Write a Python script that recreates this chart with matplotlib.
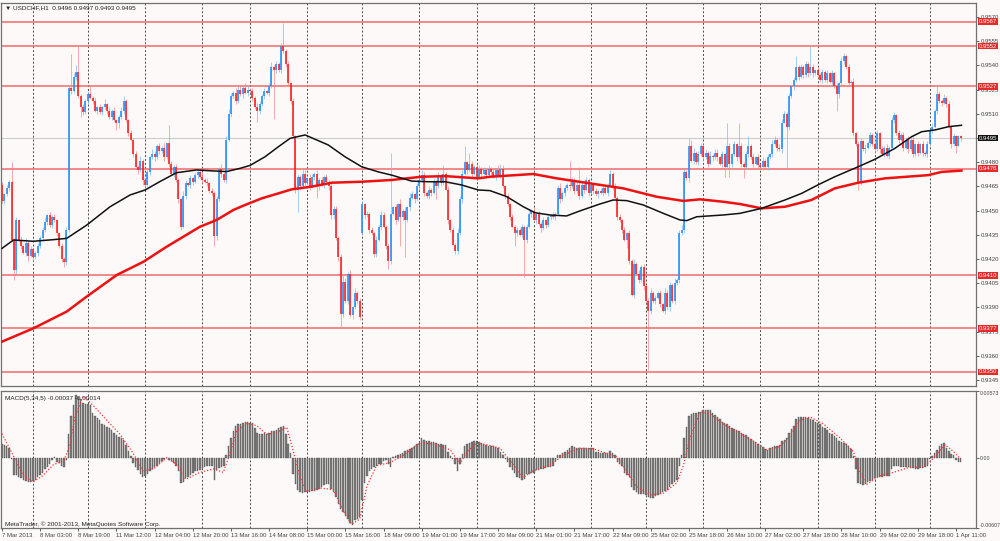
import numpy as np
import matplotlib
matplotlib.use('Agg')
from matplotlib import pyplot as plt

plt.rcParams['font.family'] = ['Liberation Sans', 'DejaVu Sans']

# USDCHF H1, 7 Mar - 1 Apr 2013. prices are pips above 0.9300
base = 0.93
pip = 0.0001

close_pips = [
    156, 160, 164, 168, 132, 113, 144, 132, 128, 124,
    130, 122, 126, 121, 124, 128, 133, 138, 143, 147,
    141, 146, 144, 136, 128, 120, 118, 138, 226, 224,
    233, 236, 221, 214, 211, 218, 222, 220, 218, 212,
    214, 211, 214, 216, 212, 208, 212, 206, 204, 208,
    212, 218, 206, 198, 194, 185, 177, 175, 181, 169,
    166, 174, 183, 185, 183, 190, 187, 189, 183, 192,
    179, 173, 177, 169, 157, 140, 159, 167, 166, 170,
    168, 172, 174, 171, 169, 168, 167, 162, 161, 134,
    157, 176, 173, 169, 194, 210, 221, 223, 218, 225,
    222, 226, 223, 225, 224, 220, 214, 212, 216, 221,
    224, 223, 227, 239, 237, 241, 237, 252, 249, 241,
    229, 218, 196, 163, 171, 165, 173, 167, 170, 165,
    171, 173, 165, 169, 166, 171, 168, 165, 147, 151,
    133, 121, 86, 106, 94, 111, 85, 90, 99, 94,
    84, 154, 147, 148, 138, 136, 123, 132, 140, 147,
    140, 128, 119, 148, 152, 144, 154, 146, 150, 144,
    152, 158, 160, 157, 165, 169, 172, 161, 159, 163,
    161, 168, 165, 171, 167, 173, 163, 144, 138, 129,
    125, 136, 157, 173, 180, 175, 179, 173, 177, 171,
    176, 173, 175, 172, 176, 174, 171, 175, 172, 176,
    165, 159, 154, 146, 140, 136, 138, 135, 140, 132,
    140, 148, 150, 144, 148, 142, 139, 144, 141, 146,
    147, 146, 148, 164, 157, 161, 164, 166, 165, 169,
    162, 166, 159, 166, 163, 169, 161, 166, 162, 160,
    162, 161, 164, 161, 166, 173, 165, 158, 146, 144,
    138, 132, 136, 119, 98, 117, 111, 107, 115, 103,
    94, 88, 99, 94, 96, 99, 92, 88, 99, 90,
    104, 94, 105, 107, 136, 138, 174, 170, 190, 181,
    186, 180, 185, 190, 183, 186, 179, 184, 183, 186,
    183, 179, 185, 177, 190, 179, 185, 191, 183, 190,
    179, 177, 185, 190, 183, 179, 183, 178, 177, 181,
    177, 183, 185, 191, 194, 189, 188, 204, 210, 202,
    221, 227, 231, 239, 233, 239, 234, 241, 235, 239,
    235, 237, 234, 231, 236, 231, 235, 230, 235, 227,
    222, 229, 243, 246, 239, 229, 230, 198, 191, 168,
    193, 188, 189, 192, 197, 191, 188, 198, 188, 185,
    189, 184, 189, 206, 209, 198, 194, 197, 189, 194,
    188, 194, 185, 191, 186, 191, 186, 185, 191, 200,
    202, 212, 222, 218, 217, 220, 216, 202, 191, 196,
    190, 196, 195,
]
# bars whose open is not the previous close (first bar, weekend gap)
gap_open = {0: 166, 151: 136}

up_wick = [
    2, 1, 2, 1, 0, 1, 2, 1, 2, 1, 3, 1, 2, 1, 1, 2, 1, 2, 3, 1,
    2, 1, 2, 1, 1, 2, 1, 2, 1, 0, 2, 1, 0, 1, 2, 1, 2, 0, 1, 2,
    1, 2, 1, 3, 1, 2, 1, 2, 1, 1, 2, 3, 1, 1, 2, 1, 2, 1, 3, 1,
    1, 2, 1, 3, 2, 1, 2, 1, 3, 0, 0, 2, 1, 2, 1, 1, 3, 2, 1, 2,
    1, 2, 1, 2, 3, 1, 2, 1, 2, 1, 2, 1, 3, 1, 2, 3, 2, 1, 3, 2,
    2, 1, 3, 2, 1, 2, 1, 3, 2, 1, 2, 1, 2, 3, 1, 2, 1, 2, 0, 1,
    2, 1, 2, 1, 2, 1, 0, 2, 1, 3, 2, 1, 2, 1, 2, 1, 2, 1, 3, 2,
    2, 1, 2, 0, 2, 1, 2, 1, 3, 1, 2, 2, 1, 2, 1, 2, 1, 2, 1, 3,
    2, 1, 2, 0, 1, 2, 1, 3, 1, 2, 1, 3, 2, 1, 2, 1, 3, 2, 1, 2,
    1, 2, 1, 3, 2, 0, 1, 2, 1, 2, 1, 3, 2, 2, 0, 1, 0, 2, 1, 2,
    2, 1, 2, 1, 2, 1, 2, 1, 3, 0, 2, 1, 2, 1, 2, 1, 2, 1, 2, 1,
    2, 3, 1, 2, 1, 2, 1, 2, 1, 2, 1, 2, 1, 2, 3, 1, 2, 1, 0, 2,
    1, 2, 0, 2, 1, 2, 1, 2, 1, 2, 1, 2, 1, 2, 1, 2, 1, 2, 1, 2,
    1, 2, 1, 2, 1, 3, 1, 2, 1, 2, 1, 2, 3, 1, 2, 1, 2, 1, 3, 2,
    2, 1, 3, 1, 2, 3, 2, 1, 0, 0, 3, 1, 2, 2, 1, 2, 1, 3, 1, 2,
    2, 1, 2, 1, 0, 2, 1, 2, 1, 0, 2, 1, 2, 0, 1, 2, 1, 2, 1, 2,
    1, 2, 1, 3, 2, 1, 2, 3, 2, 1, 2, 1, 2, 0, 1, 2, 1, 2, 1, 0,
    2, 1, 2, 1, 2, 1, 2, 1, 2, 1, 2, 1, 2, 2, 1, 2, 1, 2, 1, 2,
    2, 1, 2, 1, 2, 1, 3, 2, 1, 2, 1, 2, 1, 2, 2, 1, 2, 1, 2, 1,
    2, 1, 2, 1, 2, 1, 2, 1, 2, 1, 2, 1, 0, 2, 1, 2, 1, 2, 1, 2,
    1, 1, 1,
]
dn_wick = [
    1, 2, 1, 2, 1, 0, 2, 1, 2, 1, 2, 3, 1, 2, 1, 2, 1, 2, 1, 2,
    1, 2, 1, 2, 1, 2, 0, 2, 1, 2, 1, 2, 1, 0, 2, 1, 2, 1, 2, 1,
    2, 1, 2, 1, 2, 1, 2, 1, 0, 0, 1, 2, 1, 2, 1, 2, 1, 2, 1, 0,
    2, 1, 2, 1, 2, 1, 2, 1, 2, 1, 2, 1, 2, 1, 2, 0, 1, 2, 1, 2,
    2, 1, 2, 1, 2, 1, 2, 1, 2, 0, 2, 1, 2, 1, 2, 1, 2, 1, 2, 1,
    1, 2, 1, 2, 1, 2, 1, 0, 2, 1, 2, 1, 2, 1, 0, 2, 1, 2, 1, 2,
    1, 2, 1, 2, 0, 2, 1, 2, 1, 2, 1, 2, 0, 2, 1, 2, 1, 2, 0, 2,
    1, 2, 0, 2, 1, 2, 1, 2, 1, 2, 2, 1, 2, 1, 2, 1, 0, 2, 1, 2,
    1, 2, 0, 2, 1, 2, 1, 0, 2, 0, 1, 2, 1, 2, 1, 2, 1, 2, 1, 2,
    2, 1, 2, 1, 2, 1, 0, 2, 1, 0, 0, 2, 1, 2, 1, 2, 1, 2, 1, 2,
    1, 2, 1, 2, 1, 2, 1, 2, 1, 2, 1, 2, 1, 2, 1, 0, 2, 1, 2, 0,
    2, 1, 2, 1, 2, 1, 2, 1, 2, 1, 2, 1, 2, 1, 2, 1, 2, 1, 2, 1,
    2, 1, 2, 1, 2, 1, 2, 1, 2, 1, 2, 1, 2, 1, 2, 1, 2, 1, 2, 1,
    2, 1, 0, 2, 1, 2, 1, 2, 1, 2, 1, 0, 2, 1, 2, 1, 2, 1, 2, 1,
    2, 1, 2, 1, 2, 1, 2, 1, 2, 1, 2, 1, 2, 1, 2, 1, 2, 1, 2, 1,
    2, 1, 2, 0, 1, 0, 2, 1, 2, 1, 2, 0, 1, 2, 1, 2, 1, 2, 1, 2,
    1, 2, 1, 2, 1, 2, 1, 2, 0, 1, 2, 1, 2, 1, 2, 1, 2, 1, 2, 1,
    2, 1, 2, 1, 2, 1, 2, 1, 2, 1, 0, 2, 1, 2, 1, 2, 1, 2, 1, 0,
    2, 1, 2, 1, 2, 1, 2, 1, 2, 1, 2, 1, 2, 1, 2, 1, 2, 1, 2, 1,
    2, 1, 2, 1, 2, 1, 2, 1, 2, 1, 2, 1, 2, 1, 2, 1, 2, 1, 2, 1,
    1, 0, 1,
]
# long shadows, absolute pips
spike_high = {4: 180, 29: 247, 31: 240, 32: 252, 37: 227, 70: 203, 118: 266,
              126: 176, 143: 110, 163: 186, 185: 178, 194: 190, 196: 186,
              209: 179, 238: 181, 242: 177, 288: 195, 289: 194, 304: 204,
              309: 204, 313: 196, 333: 246, 339: 252, 353: 248, 392: 227,
              402: 197}
spike_low = {5: 107, 26: 115, 33: 208, 48: 200, 49: 201, 59: 166, 75: 138,
             89: 128, 107: 205, 114: 207, 124: 149, 132: 158, 138: 145,
             142: 77, 156: 121, 162: 114, 167: 128, 169: 121, 182: 157,
             190: 123, 215: 128, 219: 109, 262: 127, 271: 51, 303: 171,
             305: 171, 311: 170, 329: 176, 350: 212, 359: 163, 400: 186,
             402: 193}

# moving averages (pips), read at these bars
ma_black_x = [0, 4.8, 13.1, 21.5, 27.1, 35.5, 45.3, 53.7, 60, 66.2, 73.2, 81.6,
              88.6, 94.2, 99.8, 104, 110.3, 115.9, 120.8, 127.1, 136.8, 143.8,
              150.8, 157.8, 163.4, 171.8, 178.8, 185.8, 192.7, 199.7, 204.6,
              211.6, 218.6, 223.5, 229.8, 236.7, 242.3, 250.7, 256.3, 261.9,
              268.9, 277.3, 284.3, 287.1, 291.3, 302.4, 309.4, 318.5, 328.3,
              335.3, 342.2, 349.2, 359, 366, 374.4, 381.4, 385.6, 391.2, 396.8,
              402.3]
ma_black = [126.6, 131.8, 131, 132, 132.8, 141, 152.4, 159.7, 162.8, 168, 173.5,
            175.2, 174.6, 174.2, 176.2, 178, 183.4, 189.6, 194.8, 196.9, 190.7,
            183.4, 177.2, 174, 172, 168.3, 167.9, 167.9, 165.9, 162.8, 162.4,
            158.7, 152.4, 148.7, 147.3, 146.7, 149.8, 154.1, 156.6, 156.2,
            153.5, 148.3, 144.2, 143.8, 146.2, 147.3, 148.3, 151.4, 156.6,
            160.7, 166, 171, 177.2, 181.8, 188.6, 195.8, 198.9, 200, 202,
            202.9]
ma_red_x = [0, 13.1, 27.1, 35.5, 48.1, 59.3, 69, 83, 90, 97, 101.9, 108.9,
            115.9, 121.5, 129.9, 138.2, 150.8, 163.4, 176, 185.8, 199.7, 204.6,
            222.8, 232.6, 246.5, 260.5, 274.5, 285.7, 292.7, 302.4, 309.4,
            318.5, 328.3, 339.4, 349.2, 359, 370.2, 388.4, 394, 402.3]
ma_red = [68.8, 77, 87.4, 96.7, 110.1, 118.3, 127.6, 140, 144.2, 150.4, 153.5,
          157.6, 160.7, 163.2, 164.9, 167.3, 167.9, 169, 171, 171.4, 170, 171,
          172.7, 170, 166.9, 163.8, 158.6, 156, 157, 155.5, 154.1, 151.4,
          152.4, 156.6, 163.8, 167.3, 170, 172, 174, 174.8]

levels = [0.9567, 0.9552, 0.9527, 0.9476, 0.9410, 0.9377, 0.9350]
last_price = 0.9495

# MACD(5,34,5), units of 0.00001
macd_main = [
    116, 110, 95, 80, -10, -150, -150, -165, -180, -190,
    -200, -210, -210, -205, -190, -170, -150, -130, -100, -80,
    -60, -25, 5, -40, -50, -70, -80, -20, 200, 360,
    450, 540, 520, 500, 470, 460, 465, 455, 380, 360,
    340, 320, 290, 280, 265, 250, 235, 210, 195, 180,
    165, 150, 110, 60, 10, -50, -80, -110, -140, -165,
    -160, -140, -120, -100, -85, -70, -50, -30, -15, -5,
    -20, -30, -50, -70, -120, -220, -215, -180, -170, -150,
    -130, -120, -115, -105, -90, -80, -75, -70, -70, -190,
    -110, -90, -80, -70, 20, 100, 170, 230, 270, 285,
    290, 300, 310, 305, 300, 295, 250, 215, 200, 205,
    210, 205, 215, 225, 230, 240, 250, 265, 275, 200,
    120, 40, -140, -230, -280, -300, -305, -300, -300, -295,
    -290, -285, -280, -270, -255, -240, -230, -225, -270, -300,
    -340, -400, -440, -470, -500, -530, -560, -580, -540, -530,
    -515, -365, -220, -160, -113, -100, -80, -70, -60, -55,
    -30, -25, -55, -80, 6, 15, 20, 30, 40, 55,
    65, 75, 80, 100, 115, 125, 170, 150, 145, 140,
    135, 130, 125, 120, 115, 112, 110, 50, 10, -10,
    -55, -113, -55, 30, 95, 115, 125, 135, 140, 138,
    130, 125, 120, 110, 100, 100, 95, 90, 80, 50,
    20, -10, -40, -80, -105, -130, -170, -180, -190, -185,
    -140, -140, -135, -130, -110, -105, -100, -95, -90, -85,
    -80, -70, -30, 20, 25, 35, 50, 65, 80, 95,
    90, 85, 85, 85, 85, 82, 80, 82, 80, 50,
    45, 40, 38, 35, 40, 55, 40, 20, -40, -55,
    -70, -130, -150, -170, -250, -280, -300, -310, -315, -318,
    -320, -340, -345, -350, -330, -320, -310, -300, -290, -280,
    -250, -230, -210, -190, -70, 20, 170, 260, 360, 375,
    380, 385, 390, 395, 405, 410, 410, 405, 380, 365,
    350, 335, 310, 295, 285, 270, 255, 245, 235, 225,
    215, 200, 190, 175, 160, 145, 130, 115, 100, 90,
    75, 65, 80, 90, 95, 100, 110, 140, 155, 170,
    215, 245, 275, 330, 345, 350, 350, 345, 340, 330,
    320, 310, 300, 285, 265, 250, 235, 215, 200, 185,
    170, 145, 135, 125, 115, 100, 70, 10, -100, -220,
    -230, -235, -225, -215, -200, -190, -175, -170, -165, -165,
    -160, -160, -155, -100, -75, -70, -75, -80, -80, -85,
    -85, -90, -90, -95, -95, -90, -90, -80, -70, -10,
    10, 35, 65, 95, 115, 125, 85, 55, 30, 20,
    -25, -35, -37,
]
macd_sig_x = [0, 5, 9, 13, 17, 21.5, 26, 28.5, 30.6, 34, 38, 44, 49.5, 55, 59,
              63.5, 69, 73, 77, 83, 88.6, 92.8, 95.6, 98.4, 102.6, 106.8, 111,
              115, 119.4, 122.2, 125, 127.7, 133.3, 139, 143, 146.6, 150, 153,
              157, 162.7, 168.3, 175.3, 181, 188, 192, 195, 199, 204.6, 208.8,
              213, 218.6, 222.8, 229.8, 235.3, 242.3, 248, 253.5, 257.7, 262,
              266, 271.7, 277.3, 283, 285.7, 288.5, 292.7, 296.8, 302.4, 309.4,
              316.4, 320.6, 326.2, 330.4, 334.6, 338.8, 344.4, 351.3, 357,
              359.7, 362.5, 368, 373.7, 380.7, 386.3, 390.5, 395.4, 399, 402]
macd_sig = [205, 6, -158, -210, -158, -63, -24, 110, 350, 527, 453, 320, 200,
            36, -113, -98, -3, -54, -188, -128, -98, -128, 36, 230, 295, 274,
            200, 215, 260, 50, -173, -292, -262, -277, -456, -575, -530, -247,
            -69, -45, 21, 125, 116, 66, -54, 50, 125, 104, 80, -24, -173, -113,
            -69, 21, 80, 75, 36, 6, -128, -247, -322, -307, -218, -69, 170, 393,
            378, 289, 206, 125, 66, 95, 185, 319, 349, 289, 170, 50, -128, -232,
            -158, -128, -83, -83, -9, 110, 50, -14]

grid_bars = [13, 36, 60, 84, 104, 128, 151, 175, 199, 223, 247, 270, 294, 318,
             342, 366, 389]
time_labels = ['7 Mar 2013', '8 Mar 03:00', '8 Mar 19:00', '11 Mar 12:00',
               '12 Mar 04:00', '12 Mar 20:00', '13 Mar 16:00', '14 Mar 08:00',
               '15 Mar 00:00', '15 Mar 16:00', '18 Mar 09:00', '19 Mar 01:00',
               '19 Mar 17:00', '20 Mar 09:00', '21 Mar 01:00', '21 Mar 17:00',
               '22 Mar 09:00', '25 Mar 02:00', '25 Mar 18:00', '26 Mar 10:00',
               '27 Mar 02:00', '27 Mar 18:00', '28 Mar 10:00', '29 Mar 02:00',
               '29 Mar 18:00', '1 Apr 11:00']

bg = '#fcf9f8'
bull, bear = '#1e8fff', '#ff1a1a'
fs = 4.3

n = len(close_pips)
x = np.arange(n)
c = np.array(close_pips, float)
o = np.r_[c[0], c[:-1]]
for k, v in gap_open.items():
    o[k] = v
top = np.maximum(o, c)
bot = np.minimum(o, c)
hi = top + np.array(up_wick, float)
lo = bot - np.array(dn_wick, float)
for k, v in spike_high.items():
    hi[k] = max(hi[k], v)
for k, v in spike_low.items():
    lo[k] = min(lo[k], v)
flat = (top - bot) < 0.4
top = np.where(flat, top + 0.2, top)
bot = np.where(flat, bot - 0.2, bot)
px = lambda a: base + np.asarray(a, float) * pip
up = c >= o

fig = plt.figure(figsize=(10, 5.41), dpi=100, facecolor=bg)
ax = fig.add_axes([0.001, 0.2865, 0.975, 0.708], facecolor=bg)
ax2 = fig.add_axes([0.001, 0.024, 0.975, 0.2533], facecolor=bg)

for a in (ax, ax2):
    a.set_xlim(-0.42, 408.4)
    for g in grid_bars:
        a.axvline(g, color='#4a4a4a', lw=0.7, ls=(0, (2, 2)), zorder=0)
    for s in a.spines.values():
        s.set_color('#707070')
        s.set_linewidth(0.9)

# price panel
for lv in levels:
    ax.axhline(lv, color='#f26a6a', lw=1.1, zorder=1)
ax.axhline(last_price, color='#cccccc', lw=0.8, zorder=1)

ax.vlines(x[up], px(lo[up]), px(hi[up]), color='#7fbcf8', lw=0.5, zorder=2)
ax.vlines(x[~up], px(lo[~up]), px(hi[~up]), color='#f88a8a', lw=0.5, zorder=2)
ax.vlines(x[up], px(bot[up]), px(top[up]), color=bull, lw=1.15, zorder=2)
ax.vlines(x[~up], px(bot[~up]), px(top[~up]), color=bear, lw=1.15, zorder=2)

ax.plot(ma_red_x, px(ma_red), color='#ee1111', lw=1.8, zorder=3)
ax.plot(ma_black_x, px(ma_black), color='#111111', lw=1.1, zorder=3)

ax.set_ylim(0.93413, 0.95787)
ax.yaxis.tick_right()
yt = np.round(np.arange(0.9345, 0.95701, 0.0015), 4)
ax.set_yticks(yt)
# the 0.9495 tick sits under the last-price box
ax.set_yticklabels(['' if abs(v - last_price) < 1e-6 else f'{v:.4f}' for v in yt])
ax.tick_params(axis='y', length=2, width=0.6, colors='#444', labelsize=fs, pad=1.5)
ax.set_xticks([])

ytr = ax.get_yaxis_transform()
for lv in levels:
    ax.text(1.0025, lv, f'{lv:.4f}', transform=ytr, fontsize=fs, color='white',
            va='center', ha='left', zorder=5,
            bbox=dict(boxstyle='square,pad=0.15', fc='#e62a2a', ec='none'))
ax.text(1.0025, last_price, f'{last_price:.4f}', transform=ytr, fontsize=fs,
        color='white', va='center', ha='left', zorder=5,
        bbox=dict(boxstyle='square,pad=0.15', fc='#111111', ec='none'))

ax.text(0.004, 0.995, '\u25bc USDCHF,H1  0.9496 0.9497 0.9493 0.9495',
        transform=ax.transAxes, fontsize=fs + 0.3, va='top', ha='left', color='#222')

# MACD panel
m = np.array(macd_main, float) * 1e-5
ax2.bar(x, m, width=0.6, color='#7c7c7c', edgecolor='#484848', lw=0.25, zorder=2)
ax2.plot(macd_sig_x, np.array(macd_sig) * 1e-5, color='#ff3030', lw=0.9,
         ls=(0, (1, 1.5)), zorder=3)
ax2.set_ylim(-0.00607, 0.00573)
ax2.yaxis.tick_right()
ax2.set_yticks([0.00573, 0, -0.00607])
ax2.set_yticklabels(['0.00573', '0.00', '-0.00607'])
ax2.tick_params(axis='y', length=2, width=0.6, colors='#444', labelsize=3.8, pad=1)
ylabs = ax2.get_yticklabels()
ylabs[0].set_va('top')
ylabs[2].set_va('bottom')

ax2.set_xticks(np.arange(len(time_labels)) * 16)
ax2.set_xticklabels(time_labels, ha='left')
ax2.tick_params(axis='x', length=2, width=0.6, colors='#444', labelsize=fs, pad=1.5)

ax2.text(0.004, 0.965, 'MACD(5,34,5) -0.00037 -0.00014', transform=ax2.transAxes,
         fontsize=fs + 0.3, va='top', ha='left', color='#222')
ax2.text(0.004, 0.008, 'MetaTrader, \u00a9 2001-2013, MetaQuotes Software Corp.',
         transform=ax2.transAxes, fontsize=fs + 0.3, va='bottom', ha='left', color='#222')

fig.savefig('out.png', dpi=100, facecolor=bg)
